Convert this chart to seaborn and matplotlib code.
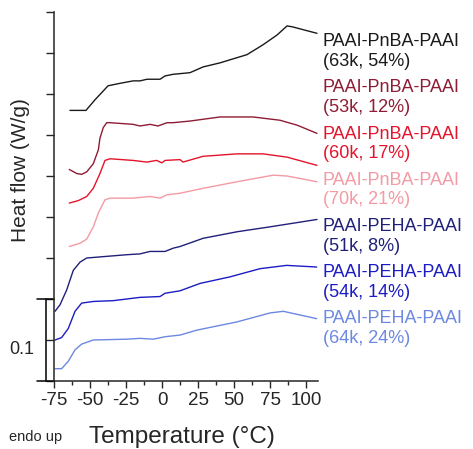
import numpy as np
import matplotlib.pyplot as plt
import seaborn as sns
import pandas as pd

sns.set_style('ticks')
plt.rcParams['font.family'] = ['Liberation Sans', 'DejaVu Sans']
plt.rcParams['axes.unicode_minus'] = False

# DSC traces (temperature in degC, heat flow in W/g, stacked offsets)
t_63k = [-63.9, -52.8, -46.5, -41.7, -37.5, -29.2, -20.1, -15.3, -10.4, -1.4, 2.1, 7.6,
         19.4, 28.5, 40.3, 59.0, 70.1, 79.9, 86.8, 90.3, 107.6]
h_63k = [0.330, 0.330, 0.343, 0.352, 0.360, 0.363, 0.366, 0.366, 0.368, 0.368, 0.372, 0.374,
         0.376, 0.383, 0.388, 0.398, 0.410, 0.422, 0.433, 0.432, 0.424]

t_53k = [-64.4, -59.2, -55.8, -52.3, -47.7, -44.2, -43.1, -40.8, -38.4, -36.1, -20.1, -15.3,
         -8.3, -2.8, 3.5, 7.6, 19.4, 40.3, 63.2, 81.9, 93.8, 107.6]
h_53k = [0.258, 0.253, 0.252, 0.255, 0.265, 0.282, 0.296, 0.309, 0.315, 0.315, 0.313, 0.311,
         0.313, 0.311, 0.315, 0.315, 0.317, 0.322, 0.322, 0.318, 0.312, 0.302]

t_60k = [-64.4, -58.1, -52.3, -47.7, -43.1, -39.6, -36.1, -20.1, -10.6, -3.7, -0.2, 2.1,
         12.5, 14.6, 28.5, 52.1, 70.1, 86.8, 107.6]
h_60k = [0.217, 0.220, 0.225, 0.235, 0.253, 0.269, 0.271, 0.269, 0.267, 0.269, 0.266, 0.269,
         0.270, 0.267, 0.274, 0.277, 0.277, 0.273, 0.263]

t_70k = [-64.4, -56.9, -52.3, -47.7, -44.2, -39.6, -36.1, -20.1, -8.3, -1.4, 3.3, 12.5,
         28.5, 52.1, 77.1, 86.8, 107.6]
h_70k = [0.164, 0.168, 0.173, 0.188, 0.205, 0.221, 0.223, 0.223, 0.225, 0.223, 0.227, 0.229,
         0.235, 0.243, 0.251, 0.250, 0.243]

t_51k = [-74.3, -70.8, -66.2, -61.6, -56.9, -52.3, -38.4, -24.5, -15.3, -8.3, 2.1, 7.8,
         12.5, 28.5, 52.1, 75.0, 107.6]
h_51k = [0.085, 0.093, 0.111, 0.135, 0.145, 0.150, 0.152, 0.154, 0.155, 0.158, 0.158, 0.162,
         0.164, 0.174, 0.182, 0.188, 0.197]

t_54k = [-74.3, -69.7, -65.1, -60.4, -55.8, -47.7, -33.8, -24.5, -15.3, -1.4, 2.1, 12.5,
         26.4, 47.2, 68.1, 86.6, 107.4]
h_54k = [0.050, 0.053, 0.064, 0.085, 0.095, 0.097, 0.098, 0.100, 0.102, 0.103, 0.107, 0.110,
         0.119, 0.127, 0.137, 0.141, 0.139]

t_64k = [-74.3, -69.7, -65.1, -60.4, -55.8, -47.7, -24.5, -15.3, -6.0, 2.1, 12.5, 24.1,
         51.9, 75.0, 84.2, 107.4]
h_64k = [0.015, 0.015, 0.024, 0.038, 0.045, 0.050, 0.051, 0.052, 0.051, 0.054, 0.056, 0.062,
         0.072, 0.083, 0.085, 0.076]

names = ['PAAI-PnBA-PAAI\n(63k, 54%)', 'PAAI-PnBA-PAAI\n(53k, 12%)',
         'PAAI-PnBA-PAAI\n(60k, 17%)', 'PAAI-PnBA-PAAI\n(70k, 21%)',
         'PAAI-PEHA-PAAI\n(51k, 8%)', 'PAAI-PEHA-PAAI\n(54k, 14%)',
         'PAAI-PEHA-PAAI\n(64k, 24%)']
temps = [t_63k, t_53k, t_60k, t_70k, t_51k, t_54k, t_64k]
flows = [h_63k, h_53k, h_60k, h_70k, h_51k, h_54k, h_64k]
colors = ['#1a1a1a', '#8e1c34', '#e3142c', '#f39aa4', '#20207a', '#1c1cc4', '#6c88e0']

df = pd.concat([pd.DataFrame({'T': t, 'H': h, 'sample': n})
                for t, h, n in zip(temps, flows, names)], ignore_index=True)

fig = plt.figure(figsize=(4.73, 4.49), dpi=100)
ax = fig.add_axes([54 / 473, 68 / 449, 264 / 473, 369 / 449])

sns.lineplot(data=df, x='T', y='H', hue='sample', palette=colors, sort=False,
             estimator=None, linewidth=1.0, legend=False, ax=ax)

ax.set_xlim(-75, 108.3)
ax.set_ylim(0, 0.45)
sns.despine(ax=ax)
ax.set_xticks(np.arange(-75, 101, 25))
ax.set_xticks(np.arange(-62.5, 101, 25), minor=True)
ax.set_yticks(np.arange(0, 0.451, 0.05))
ax.set_yticklabels([])
ax.tick_params(axis='x', which='major', direction='out', length=5, width=1, pad=3, labelsize=13.5)
ax.tick_params(axis='x', which='minor', direction='out', length=3, width=1)
ax.tick_params(axis='y', direction='out', length=6, width=1)
for s in ax.spines.values():
    s.set_linewidth(1.1)
ax.set_xlabel('')
ax.set_ylabel('')

# scale bar 0.1 W/g at the left
ax.plot([-86.8, -75], [0, 0], color='black', lw=1.1, clip_on=False)
ax.plot([-86.8, -75], [0.1, 0.1], color='black', lw=1.1, clip_on=False)
ax.plot([-80.6, -80.6], [0, 0.1], color='black', lw=1.1, clip_on=False)
ax.text(-97.5, 0.038, '0.1', fontsize=13, ha='center', va='center')

fig.text(20 / 473, 1 - 170 / 449, 'Heat flow (W/g)', rotation=90, fontsize=15,
         ha='center', va='center')
fig.text(182 / 473, 1 - 437 / 449, 'Temperature (\u00b0C)', fontsize=17.5,
         ha='center', va='center')
fig.text(36 / 473, 1 - 437 / 449, 'endo up', fontsize=10.5, ha='center', va='center')

for i, (n, c) in enumerate(zip(names, colors)):
    fig.text(323 / 473, 1 - (51.5 + 46.2 * i) / 449, n, color=c, fontsize=13,
             ha='left', va='center', linespacing=1.2)

fig.savefig('out.png', dpi=100)
